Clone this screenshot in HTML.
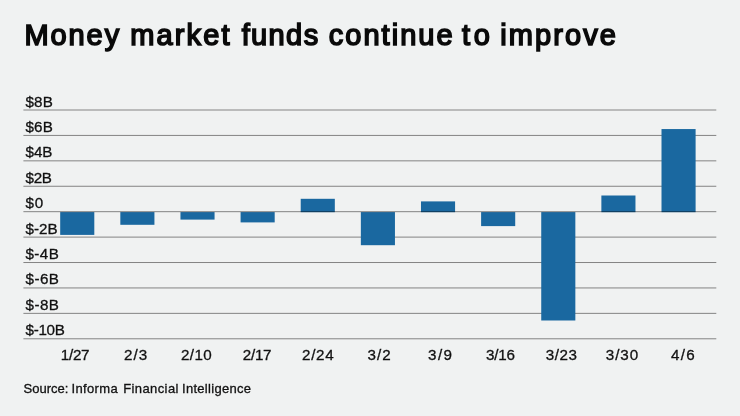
<!DOCTYPE html>
<html><head><meta charset="utf-8">
<style>
html,body{margin:0;padding:0;}
body{width:740px;height:416px;background:#f0f2f2;overflow:hidden;position:relative;font-family:"Liberation Sans",sans-serif;}
svg{position:absolute;left:0;top:0;filter:blur(0.3px);}
text{font-family:"Liberation Sans",sans-serif;fill:#111;white-space:pre;}
.t{font-size:29.0px;fill:#0a0a0a;stroke:#0a0a0a;stroke-width:1.6px;stroke-linejoin:miter;}
.y,.x,.s{stroke:#111;stroke-width:0.3px;}
.y{font-size:15.2px;}
.x{font-size:15.2px;}
.s{font-size:13px;}
</style></head><body>
<svg width="740" height="416" viewBox="0 0 740 416">
<rect x="23.4" y="109.50" width="692.9" height="1" fill="#848484"/>
<rect x="23.4" y="134.92" width="692.9" height="1" fill="#848484"/>
<rect x="23.4" y="160.34" width="692.9" height="1" fill="#848484"/>
<rect x="23.4" y="185.76" width="692.9" height="1" fill="#848484"/>
<rect x="23.4" y="236.60" width="692.9" height="1" fill="#848484"/>
<rect x="23.4" y="262.02" width="692.9" height="1" fill="#848484"/>
<rect x="23.4" y="287.44" width="692.9" height="1" fill="#848484"/>
<rect x="23.4" y="312.86" width="692.9" height="1" fill="#848484"/>
<rect x="23.4" y="338.28" width="692.9" height="1" fill="#848484"/>
<rect x="60.20" y="212.10" width="34.1" height="22.80" fill="#1a68a0"/>
<rect x="120.33" y="212.10" width="34.1" height="12.70" fill="#1a68a0"/>
<rect x="180.46" y="212.10" width="34.1" height="7.50" fill="#1a68a0"/>
<rect x="240.59" y="212.10" width="34.1" height="10.30" fill="#1a68a0"/>
<rect x="300.72" y="198.80" width="34.1" height="13.40" fill="#1a68a0"/>
<rect x="360.85" y="212.10" width="34.1" height="33.10" fill="#1a68a0"/>
<rect x="420.98" y="201.40" width="34.1" height="10.80" fill="#1a68a0"/>
<rect x="481.11" y="212.10" width="34.1" height="14.00" fill="#1a68a0"/>
<rect x="541.24" y="212.10" width="34.1" height="108.40" fill="#1a68a0"/>
<rect x="601.37" y="195.50" width="34.1" height="16.70" fill="#1a68a0"/>
<rect x="661.50" y="129.05" width="34.1" height="83.15" fill="#1a68a0"/>
<rect x="23.4" y="211.18" width="692.9" height="1" fill="#000" fill-opacity="0.46"/>
<text id="t0" class="t" x="24.52" y="45.0" letter-spacing="1.892">Money</text>
<text id="t1" class="t" x="130.20" y="45.0" letter-spacing="2.141">market</text>
<text id="t2" class="t" x="241.63" y="45.0" letter-spacing="1.395">funds</text>
<text id="t3" class="t" x="328.79" y="45.0" letter-spacing="2.023">continue</text>
<text id="t4" class="t" x="462.06" y="45.0" letter-spacing="3.522">to</text>
<text id="t5" class="t" x="500.16" y="45.0" letter-spacing="2.104">improve</text>
<text id="y0" class="y" x="25.52" y="106.5" letter-spacing="0.132">$8B</text>
<text id="y1" class="y" x="25.52" y="131.92" letter-spacing="0.132">$6B</text>
<text id="y2" class="y" x="25.60" y="157.34" letter-spacing="-0.073">$4B</text>
<text id="y3" class="y" x="25.61" y="182.76" letter-spacing="-0.322">$2B</text>
<text id="y4" class="y" x="25.54" y="208.18" letter-spacing="0.721">$0</text>
<text id="y5" class="y" x="25.52" y="233.6" letter-spacing="0.028">$-2B</text>
<text id="y6" class="y" x="25.52" y="259.02" letter-spacing="0.388">$-4B</text>
<text id="y7" class="y" x="25.62" y="284.44" letter-spacing="0.406">$-6B</text>
<text id="y8" class="y" x="25.62" y="309.86" letter-spacing="0.406">$-8B</text>
<text id="y9" class="y" x="25.52" y="335.28" letter-spacing="-0.296">$-10B</text>
<text id="x0" class="x" x="60.85" y="360" letter-spacing="-0.288">1/27</text>
<text id="x1" class="x" x="124.09" y="360" letter-spacing="1.039">2/3</text>
<text id="x2" class="x" x="181.09" y="360" letter-spacing="0.333">2/10</text>
<text id="x3" class="x" x="242.83" y="360" letter-spacing="-0.295">2/17</text>
<text id="x4" class="x" x="302.05" y="360" letter-spacing="0.699">2/24</text>
<text id="x5" class="x" x="367.55" y="360" letter-spacing="0.968">3/2</text>
<text id="x6" class="x" x="428.12" y="360" letter-spacing="1.364">3/9</text>
<text id="x7" class="x" x="485.99" y="360" letter-spacing="-0.176">3/16</text>
<text id="x8" class="x" x="545.78" y="360" letter-spacing="0.545">3/23</text>
<text id="x9" class="x" x="605.77" y="360" letter-spacing="0.959">3/30</text>
<text id="x10" class="x" x="671.04" y="360" letter-spacing="1.215">4/6</text>
<text id="s0" class="s" x="23.44" y="393.3" letter-spacing="0.023">Source:</text>
<text id="s1" class="s" x="71.43" y="393.3" letter-spacing="0.360">Informa</text>
<text id="s2" class="s" x="123.14" y="393.3" letter-spacing="0.412">Financial</text>
<text id="s3" class="s" x="182.05" y="393.3" letter-spacing="0.283">Intelligence</text>
</svg>
</body></html>
